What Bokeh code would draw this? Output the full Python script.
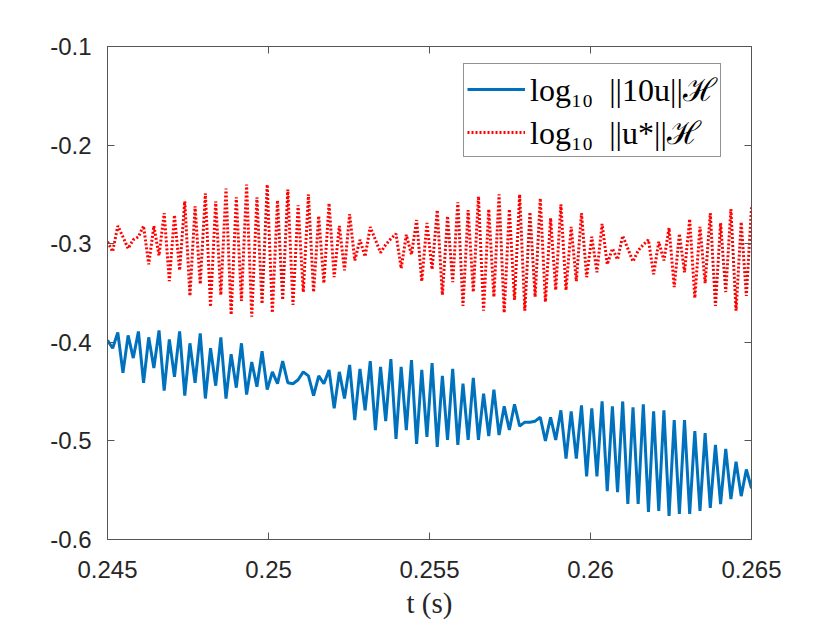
import numpy as np
from bokeh.plotting import figure
from bokeh.models import (LinearAxis, FixedTicker, Range1d, Legend, LegendItem)
from bokeh.embed import file_html
from bokeh.resources import INLINE

# ---- data ----
t_start, t_end, n_samples = 0.245, 0.265, 126
t = np.linspace(t_start, t_end, n_samples)

u10_log = [
    -0.398, -0.406, -0.390, -0.431, -0.393, -0.416, -0.389, -0.441, -0.395, -0.426,
    -0.388, -0.449, -0.397, -0.435, -0.389, -0.454, -0.401, -0.441, -0.391, -0.457,
    -0.406, -0.444, -0.395, -0.457, -0.412, -0.446, -0.401, -0.453, -0.420, -0.445,
    -0.409, -0.448, -0.430, -0.442, -0.419, -0.441, -0.442, -0.438, -0.430, -0.434,
    -0.454, -0.434, -0.442, -0.428, -0.467, -0.430, -0.457, -0.423, -0.479, -0.427,
    -0.469, -0.419, -0.489, -0.425, -0.480, -0.417, -0.498, -0.425, -0.489, -0.418,
    -0.503, -0.428, -0.496, -0.421, -0.506, -0.434, -0.499, -0.427, -0.504, -0.442,
    -0.499, -0.436, -0.499, -0.452, -0.495, -0.448, -0.494, -0.465, -0.489, -0.463,
    -0.485, -0.481, -0.481, -0.480, -0.476, -0.500, -0.476, -0.499, -0.469, -0.518,
    -0.470, -0.518, -0.464, -0.536, -0.467, -0.536, -0.460, -0.551, -0.465, -0.552,
    -0.460, -0.564, -0.466, -0.564, -0.463, -0.572, -0.470, -0.571, -0.469, -0.576,
    -0.479, -0.574, -0.479, -0.574, -0.490, -0.571, -0.492, -0.568, -0.504, -0.564,
    -0.508, -0.559, -0.521, -0.556, -0.529, -0.548,
]

ustar_log = [
    -0.298, -0.308, -0.282, -0.293, -0.305, -0.296, -0.293, -0.282, -0.321, -0.282,
    -0.312, -0.269, -0.338, -0.271, -0.327, -0.257, -0.353, -0.262, -0.341, -0.249,
    -0.364, -0.257, -0.352, -0.244, -0.372, -0.253, -0.358, -0.240, -0.374, -0.253,
    -0.361, -0.240, -0.370, -0.256, -0.357, -0.245, -0.362, -0.261, -0.349, -0.250,
    -0.349, -0.272, -0.340, -0.259, -0.334, -0.282, -0.327, -0.270, -0.317, -0.296,
    -0.313, -0.283, -0.296, -0.309, -0.301, -0.295, -0.290, -0.325, -0.291, -0.311,
    -0.276, -0.338, -0.279, -0.326, -0.266, -0.352, -0.272, -0.339, -0.258, -0.363,
    -0.266, -0.349, -0.252, -0.368, -0.265, -0.354, -0.250, -0.370, -0.265, -0.357,
    -0.250, -0.368, -0.268, -0.354, -0.254, -0.359, -0.274, -0.347, -0.260, -0.347,
    -0.283, -0.338, -0.269, -0.334, -0.293, -0.329, -0.280, -0.321, -0.305, -0.316,
    -0.292, -0.305, -0.318, -0.307, -0.301, -0.296, -0.331, -0.298, -0.317, -0.284,
    -0.344, -0.290, -0.329, -0.275, -0.355, -0.283, -0.340, -0.269, -0.363, -0.279,
    -0.349, -0.265, -0.368, -0.278, -0.353, -0.263,
]

x_ticks = [0.245, 0.25, 0.255, 0.26, 0.265]
x_tick_labels = ["0.245", "0.25", "0.255", "0.26", "0.265"]
y_ticks = [-0.6, -0.5, -0.4, -0.3, -0.2, -0.1]
y_tick_labels = ["-0.6", "-0.5", "-0.4", "-0.3", "-0.2", "-0.1"]

label_u10 = "log\u2081\u2080\u2002||10u||\u210b"
label_ustar = "log\u2081\u2080\u2002||u*||\u210b"
x_label = "t (s)"

# ---- styling ----
AX = "#555555"
TXT = "#262626"
TICK_FONT = "Liberation Sans"

p = figure(width=814, height=621, output_backend="svg", toolbar_location=None,
           frame_width=644, frame_height=493,
           x_range=Range1d(0.245, 0.265), y_range=Range1d(-0.6, -0.1),
           min_border_left=107, min_border_top=46, min_border_right=63,
           min_border_bottom=82, x_axis_type=None, y_axis_type=None)
p.background_fill_color = "white"
p.border_fill_color = "white"
p.outline_line_color = None
p.xgrid.visible = False
p.ygrid.visible = False


def style_axis(ax, ticks, labels, show_labels):
    ax.ticker = FixedTicker(ticks=ticks)
    ax.major_label_overrides = {tv: tl for tv, tl in zip(ticks, labels)}
    ax.axis_line_color = AX
    ax.axis_line_width = 1
    ax.major_tick_line_color = AX
    ax.major_tick_line_width = 1
    ax.major_tick_in = 7
    ax.major_tick_out = 0
    ax.minor_tick_line_color = None
    ax.major_label_text_font = TICK_FONT
    ax.major_label_text_font_size = "24px"
    ax.major_label_text_color = TXT if show_labels else None
    ax.major_label_standoff = 12


xb = LinearAxis()
style_axis(xb, x_ticks, x_tick_labels, True)
xb.major_label_standoff = 21
xb.axis_label = x_label
xb.axis_label_text_font = "Liberation Serif"
xb.axis_label_text_font_style = "normal"
xb.axis_label_text_font_size = "29px"
xb.axis_label_text_color = TXT
xb.axis_label_standoff = 6
p.add_layout(xb, "below")

yl = LinearAxis()
style_axis(yl, y_ticks, y_tick_labels, True)
yl.major_label_standoff = 16
p.add_layout(yl, "left")

xt = LinearAxis()
style_axis(xt, x_ticks, x_tick_labels, False)
p.add_layout(xt, "above")

yr = LinearAxis()
style_axis(yr, y_ticks, y_tick_labels, False)
p.add_layout(yr, "right")

r_blue = p.line(t, u10_log, line_color="#0072BD", line_width=3)
r_red = p.line(t, ustar_log, line_color="#FF0000", line_width=3, line_dash="2 2")

legend = Legend(items=[LegendItem(label=label_u10, renderers=[r_blue]),
                       LegendItem(label=label_ustar, renderers=[r_red])],
                location=(356, 382))
legend.label_text_font = "Liberation Serif"
legend.label_text_font_size = "32px"
legend.label_text_color = "black"
legend.glyph_width = 58
legend.glyph_height = 30
legend.label_standoff = 5
legend.spacing = 0
legend.padding = 3
legend.margin = 0
legend.border_line_color = "#262626"
legend.border_line_width = 1
legend.background_fill_color = "white"
legend.background_fill_alpha = 1
p.add_layout(legend)

open("out.html", "w").write(file_html(p, INLINE))
